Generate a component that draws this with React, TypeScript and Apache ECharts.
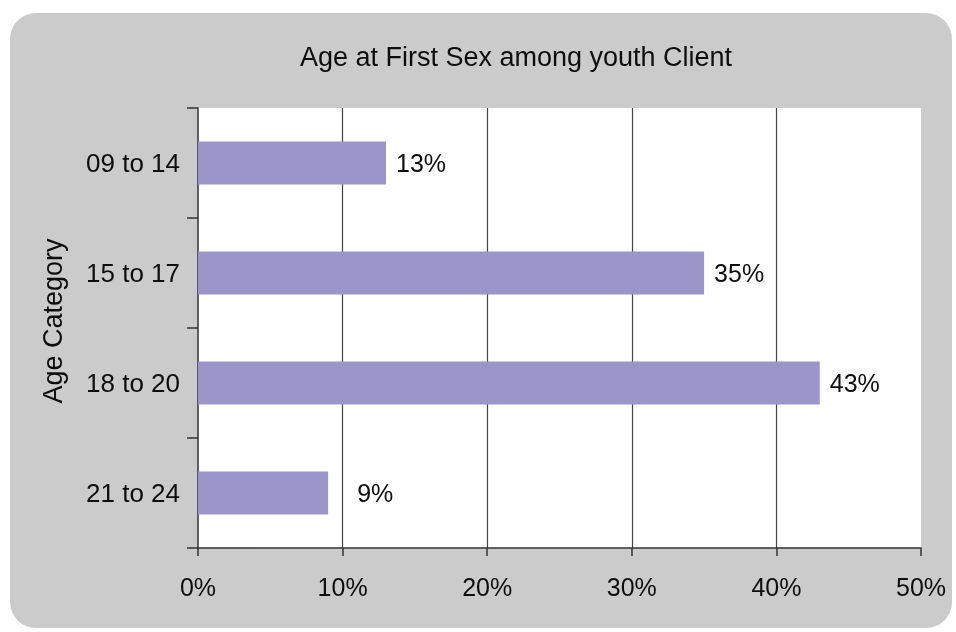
import React, { useEffect, useRef } from "react";
import * as echarts from "echarts";

const categories = ["09 to 14", "15 to 17", "18 to 20", "21 to 24"];
const values = [13, 35, 43, 9];
const labelDistances = [10, 10, 10, 29];
const xMin = 0;
const xMax = 50;
const xStep = 10;
const chartTitle = "Age at First Sex among youth Client";
const yAxisName = "Age Category";

export default function App() {
  const ref = useRef<HTMLDivElement>(null);
  useEffect(() => {
    const chart = echarts.init(ref.current!, null, { renderer: "svg" });
    const font = "'Liberation Sans', Arial, Helvetica, sans-serif";
    const textColor = "#0d0d0d";
    const axisColor = "#333";
    chart.setOption({
      animation: false,
      textStyle: { fontFamily: font },
      graphic: [
        {
          type: "rect",
          z: -10,
          shape: { x: 10, y: 13, width: 942, height: 615, r: 26 },
          style: { fill: "#cbcbcb" },
        },
        {
          type: "text",
          x: 516,
          y: 57,
          style: {
            text: chartTitle,
            fontSize: 27,
            fontFamily: font,
            fill: textColor,
            align: "center",
            verticalAlign: "middle",
          },
        },
      ],
      grid: {
        left: 198,
        top: 108,
        width: 723,
        height: 440,
        show: true,
        backgroundColor: "#ffffff",
        borderWidth: 0,
      },
      xAxis: {
        type: "value",
        min: xMin,
        max: xMax,
        interval: xStep,
        axisLine: { show: true, lineStyle: { color: axisColor, width: 1.5 } },
        axisTick: { show: true, length: 8, lineStyle: { color: axisColor, width: 1.5 } },
        axisLabel: {
          formatter: "{value}%",
          fontSize: 25,
          color: textColor,
          margin: 26,
        },
        splitLine: {
          show: true,
          lineStyle: {
            color: ["transparent", "#444", "#444", "#444", "#444", "transparent"],
            width: 1.2,
          },
        },
      },
      yAxis: {
        type: "category",
        inverse: true,
        data: categories,
        axisLine: { show: true, lineStyle: { color: axisColor, width: 1.5 } },
        axisTick: { show: true, length: 11, alignWithLabel: false, lineStyle: { color: axisColor, width: 1.5 } },
        axisLabel: { fontSize: 26, color: textColor, margin: 18 },
        splitLine: { show: false },
        name: yAxisName,
        nameLocation: "middle",
        nameGap: 132,
        nameTextStyle: { fontSize: 27, color: textColor, padding: [0, 0, 0, 14] },
      },
      series: [
        {
          type: "bar",
          barWidth: 43,
          itemStyle: { color: "#9b95c9" },
          label: {
            show: true,
            position: "right",
            formatter: "{c}%",
            fontSize: 25,
            color: textColor,
          },
          data: values.map((v, i) => ({ value: v, label: { distance: labelDistances[i] } })),
        },
      ],
    });
    return () => chart.dispose();
  }, []);
  return (
    <div
      ref={ref}
      style={{ position: "fixed", left: 0, top: 0, width: 956, height: 632 }}
    />
  );
}
